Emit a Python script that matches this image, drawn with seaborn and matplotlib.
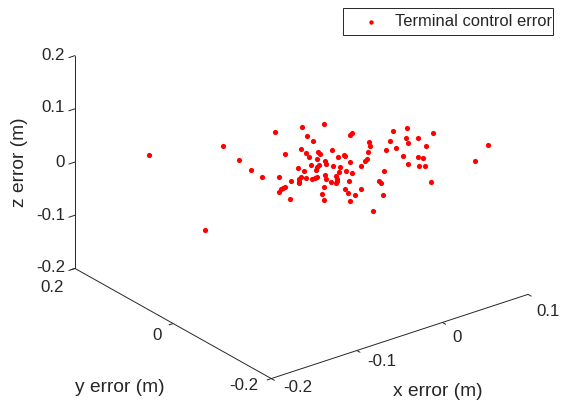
import numpy as np
import pandas as pd
import matplotlib
matplotlib.use('Agg')
import matplotlib.pyplot as plt
from matplotlib.patches import Rectangle
import seaborn as sns

x_err = [0.010,-0.032,-0.009,-0.011,-0.010,0.024,0.021,0.031,0.029,-0.024,
         -0.039,-0.023,-0.023,-0.013,-0.013,-0.002,0.023,0.004,0.004,-0.002,
         -0.019,-0.014,-0.016,0.004,0.018,0.015,-0.027,-0.022,-0.024,-0.027,
         -0.012,-0.007,-0.011,0.009,-0.039,-0.036,-0.005,-0.002,-0.023,-0.059,
         -0.039,-0.042,-0.046,-0.052,-0.047,-0.048,-0.035,-0.033,-0.031,-0.025,
         -0.016,-0.017,-0.019,-0.023,-0.021,-0.010,-0.032,-0.061,-0.063,-0.065,
         -0.068,-0.018,-0.038,-0.018,-0.006,-0.015,-0.065,-0.041,-0.022,-0.012,
         0.056,0.068,0.061,0.083,0.069,0.047,0.059,0.070,0.038,0.047,
         0.116,0.097,0.047,0.057,0.060,0.045,0.052,0.056,0.023,0.013,
         0.012,0.050,0.006,-0.140,-0.080,-0.077,-0.075,-0.071,-0.149]
y_err = [0.058,0.085,0.071,0.057,0.046,0.026,0.026,0.003,-0.002,0.046,
         0.053,0.038,0.031,0.030,0.026,0.022,-0.008,0.007,0.005,0.009,
         0.023,0.014,0.010,-0.005,-0.015,-0.016,0.020,0.014,0.014,0.011,
         0.003,-0.004,-0.008,-0.019,0.026,0.019,-0.013,-0.020,-0.001,0.031,
         0.009,0.015,0.013,0.017,0.010,0.008,0.004,0.002,0.002,-0.007,
         -0.011,-0.015,-0.018,-0.014,-0.019,-0.027,-0.015,0.015,0.015,0.015,
         0.014,-0.032,-0.020,-0.039,-0.044,-0.047,-0.003,-0.030,-0.050,-0.079,
         -0.002,-0.009,-0.020,-0.035,-0.029,-0.012,-0.027,-0.044,-0.019,-0.024,
         -0.090,-0.098,-0.038,-0.051,-0.056,-0.051,-0.062,-0.067,-0.041,-0.049,
         -0.053,-0.089,-0.069,0.153,0.108,0.081,0.060,0.043,0.025]
z_err = [0.035,0.027,0.032,0.024,0.019,0.026,0.025,0.018,0.014,0.011,
         0.007,0.007,0.004,0.009,0.007,0.010,0.008,0.006,0.005,0.004,
         0.002,0.000,-0.003,-0.001,0.002,0.000,-0.004,-0.004,-0.006,-0.008,
         -0.005,-0.006,-0.010,-0.005,-0.007,-0.009,-0.009,-0.011,-0.013,-0.015,
         -0.016,-0.015,-0.017,-0.019,-0.019,-0.021,-0.017,-0.016,-0.015,-0.017,
         -0.014,-0.017,-0.019,-0.020,-0.021,-0.019,-0.025,-0.024,-0.026,-0.027,
         -0.029,-0.026,-0.031,-0.030,-0.026,-0.032,-0.036,-0.037,-0.037,-0.047,
         0.028,0.031,0.022,0.026,0.021,0.019,0.017,0.014,0.010,0.012,
         0.015,0.000,0.005,0.004,0.003,-0.003,-0.005,-0.005,-0.010,-0.019,
         -0.021,-0.020,-0.032,0.005,0.014,0.001,-0.008,-0.015,-0.065]

x_ticks = [-0.2, -0.1, 0, 0.1]
y_ticks = [-0.2, 0, 0.2]
z_ticks = [-0.2, -0.1, 0, 0.1, 0.2]
x_labels = ['-0.2', '-0.1', '0', '0.1']
y_labels = ['-0.2', '0', '0.2']
z_labels = ['-0.2', '-0.1', '0', '0.1', '0.2']
dark = '#262626'

W, H = 561, 407

def fx(px):
    return px / W

def fy(py):
    return 1 - py / H

sns.set_style('white')
plt.rcParams['font.family'] = ['Liberation Sans', 'DejaVu Sans']

df = pd.DataFrame({'x': x_err, 'y': y_err, 'z': z_err})

fig = plt.figure(figsize=(5.61, 4.07), dpi=100)
ax = fig.add_axes([15.5/W, 23/H, 1, 1], projection='3d', proj_type='ortho')
ax.patch.set_alpha(0)
ax.view_init(elev=25.4, azim=-127.4)
ax.set_box_aspect((1, 1, 0.729), zoom=1.2265)

pts = ax.scatter(df['x'], df['y'], df['z'], color='red', s=14, linewidths=0,
                 depthshade=False, label='Terminal control error')

ax.set_xlim(-0.2, 0.1, view_margin=0)
ax.set_ylim(-0.2, 0.2, view_margin=0)
ax.set_zlim(-0.2, 0.2, view_margin=0)
ax.set_xticks(x_ticks)
ax.set_yticks(y_ticks)
ax.set_zticks(z_ticks)
ax.set_xticklabels([])
ax.set_yticklabels([])
ax.set_zticklabels([])
ax.zaxis.set_ticks_position('upper')

for axis in (ax.xaxis, ax.yaxis, ax.zaxis):
    axis.set_pane_color((1, 1, 1, 0))
    axis.pane.set_edgecolor((1, 1, 1, 0))
    axis.line.set_color(dark)
    axis.line.set_linewidth(0.7)
    axis._axinfo['tick'].update(inward_factor=0.2, outward_factor=0, linewidth={True: 0.7, False: 0.7})
    axis._axinfo['tick']['color'] = dark
    axis.set_tick_params(colors=dark)
ax.zaxis._axinfo['tick'].update(inward_factor=0.3, outward_factor=0)
ax.grid(False)

# tick labels sit where the original has them
for lab, (px, py) in zip(x_labels, [(298, 387), (382, 362), (457, 337), (548, 312)]):
    fig.text(fx(px), fy(py), lab, ha='center', va='center', color=dark, fontsize=12.2)
for lab, (px, py) in zip(y_labels, [(244, 385), (157, 336), (52, 287)]):
    fig.text(fx(px), fy(py), lab, ha='center', va='center', color=dark, fontsize=12.2)
for lab, py in zip(z_labels, [268, 215, 162, 108, 55]):
    fig.text(fx(65), fy(py), lab, ha='right', va='center', color=dark, fontsize=12.2)

fig.text(fx(20), fy(162), 'z error (m)', rotation=90, ha='center', va='center', color=dark, fontsize=13.8)
fig.text(fx(120), fy(387), 'y error (m)', ha='center', va='center', color=dark, fontsize=13.8)
fig.text(fx(438), fy(392), 'x error (m)', ha='center', va='center', color=dark, fontsize=13.8)

frame = Rectangle((fx(343), fy(35)), 210/W, 27/H, transform=fig.transFigure,
                  facecolor='white', edgecolor=dark, linewidth=0.7, zorder=5)
fig.add_artist(frame)
leg = fig.legend(handles=[pts], loc='center right', bbox_to_anchor=(fx(552.5), fy(22)),
                 bbox_transform=fig.transFigure, frameon=False, borderaxespad=0, borderpad=0,
                 fontsize=11.85, markerscale=0.85, handlelength=2, handletextpad=0.5)
leg.set_zorder(10)

fig.savefig('out.png', dpi=100)
